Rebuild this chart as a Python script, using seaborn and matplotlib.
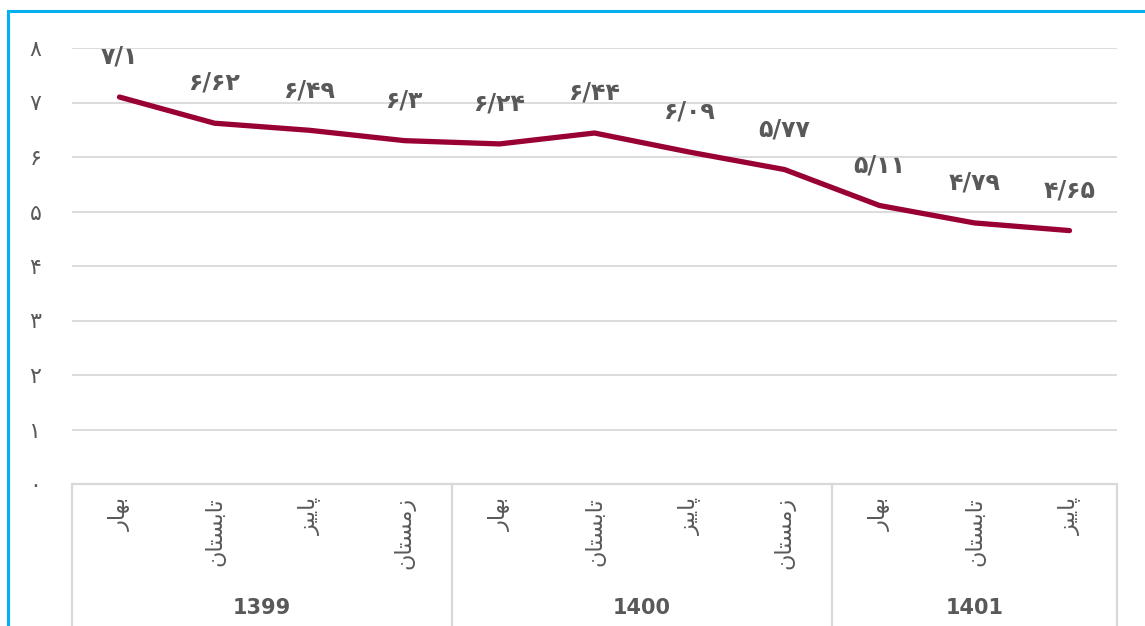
import numpy as np
import seaborn as sns
import matplotlib.pyplot as plt
import matplotlib.transforms as mtransforms
from matplotlib.patches import Rectangle
from matplotlib.lines import Line2D

# values
values = [7.1, 6.62, 6.49, 6.3, 6.24, 6.44, 6.09, 5.77, 5.11, 4.79, 4.65]
value_labels = ["۷/۱", "۶/۶۲", "۶/۴۹", "۶/۳", "۶/۲۴", "۶/۴۴", "۶/۰۹", "۵/۷۷", "۵/۱۱", "۴/۷۹", "۴/۶۵"]
# season names (pre-shaped Arabic presentation forms, visual order)
bahar = "\uFEAD\uFE8E\uFEEC\uFE91"
tabestan = "\uFEE5\uFE8E\uFE98\uFEB4\uFE91\uFE8E\uFE97"
paeez = "\uFEB0\uFBFF\uFBFE\uFE8E\uFB58"
zemestan = "\uFEE5\uFE8E\uFE98\uFEB4\uFEE3\uFEAF"
seasons = [bahar, tabestan, paeez, zemestan, bahar, tabestan, paeez, zemestan, bahar, tabestan, paeez]
years = ["1399", "1400", "1401"]
year_sizes = [4, 4, 3]
ytick_labels = ["۰", "۱", "۲", "۳", "۴", "۵", "۶", "۷", "۸"]

sns.set_theme(style="white")
plt.rcParams['font.family'] = ['DejaVu Sans']

W, H = 1145, 626
fig = plt.figure(figsize=(W / 100, H / 100), dpi=100)
ax = fig.add_axes([72 / W, 1 - 484 / H, (1117 - 72) / W, (484 - 48) / H])

x = np.arange(len(values))
sns.lineplot(x=x, y=values, ax=ax, color="#990033", linewidth=3.8, solid_capstyle="round")

ax.set_xlim(-0.5, len(values) - 0.5)
ax.set_ylim(0, 8)
ax.set_yticks(range(9))
ax.set_yticklabels(ytick_labels, color="#595959", fontsize=16)
ax.tick_params(axis="y", length=0, pad=22)
ax.set_xticks([])
for s in ax.spines.values():
    s.set_visible(False)
for yv in range(1, 9):
    ax.axhline(yv, color="#D9D9D9", lw=1.3, zorder=0)

for xi, v, lab in zip(x, values, value_labels):
    ax.annotate(lab, (xi, v), xytext=(0, 29), textcoords="offset points",
                ha="center", va="center", fontsize=17, fontweight="bold", color="#595959")

# category table below the axis
def fx(px):
    return px / W

def fy(py):
    return 1 - py / H

grid = "#D9D9D9"
fig.add_artist(Line2D([fx(72), fx(1117)], [fy(484), fy(484)], color=grid, lw=1.6))
trans = ax.get_xaxis_transform()
bounds = [0]
for n in year_sizes:
    bounds.append(bounds[-1] + n)
for b in bounds:
    ax.plot([b - 0.5, b - 0.5], [0, -0.4], transform=trans, color=grid, lw=1.6, clip_on=False)

for xi, s in zip(x, seasons):
    ax.text(xi, -0.03, s, transform=trans, rotation=90, ha="center", va="top",
            fontsize=16, color="#595959")
year_trans = mtransforms.blended_transform_factory(ax.transData, fig.transFigure)
for i, yr in enumerate(years):
    mid = (bounds[i] + bounds[i + 1] - 1) / 2
    ax.text(mid, fy(608), yr, transform=year_trans,
            ha="center", va="center", fontsize=15, fontweight="bold", color="#595959")

# outer blue frame
fig.add_artist(Rectangle((fx(8), fy(700)), fx(1200), fy(11) - fy(700), fill=False,
                         edgecolor="#00B0F0", lw=2.2, transform=fig.transFigure))

fig.savefig("out.png", dpi=100)
